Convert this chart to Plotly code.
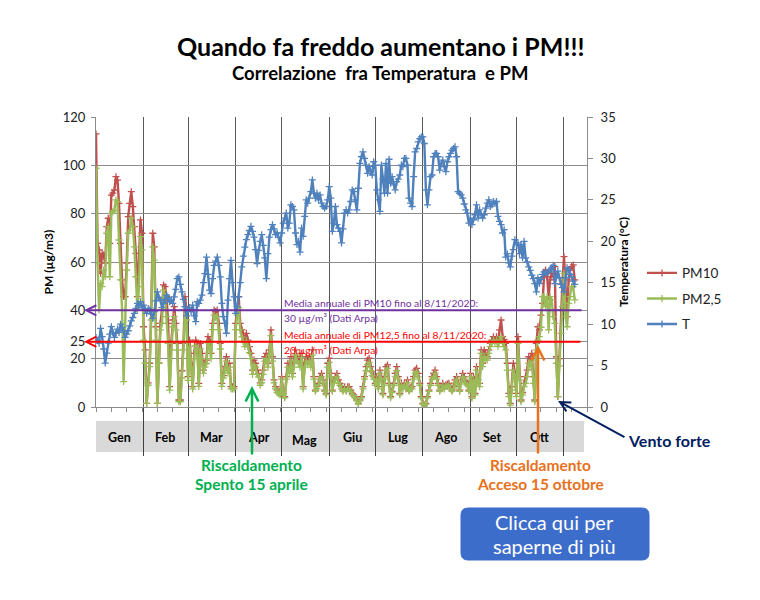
import pandas as pd
import plotly.graph_objects as go

# ---------------- data ----------------
start_date = "2020-01-01"
month_labels = ["Gen", "Feb", "Mar", "Apr", "Mag", "Giu", "Lug", "Ago", "Set", "Ott"]
month_mid = ["2020-01-16", "2020-02-15", "2020-03-16", "2020-04-16", "2020-05-16",
             "2020-06-16", "2020-07-16", "2020-08-16", "2020-09-15", "2020-10-16"]
month_starts = ["2020-02-01", "2020-03-01", "2020-04-01", "2020-05-01", "2020-06-01",
                "2020-07-01", "2020-08-01", "2020-09-01", "2020-10-01", "2020-11-01"]

pm_tickvals = [0, 20, 27, 40, 60, 80, 100, 120]
pm_ticktext = ["0", "20", "25", "40", "60", "80", "100", "120"]
pm10_mean_line = 40
pm25_mean_line = 27

pm10 = [113, 67.7, 65, 55.3, 63.6, 62.9, 59.5, 74.6, 78.1, 67.7, 87.7, 88.5, 89.8, 95.3, 93.9, 84.3, 67.7, 52.6, 45.7, 45.7,
        59.5, 78.8, 84.3, 89.1, 82.9, 74.6, 63.6, 45.7, 63.6, 77.4, 71.9, 33.2, 23.6, 1.5, 10, 18.1, 40.1, 71.9, 66.3, 33.2,
        1.5, 18.1, 34.6, 40.1, 50.5, 49.8, 45.7, 34.6, 8.4, 26.3, 36.0, 41.5, 34.6, 26.3, 2.9, 2.9, 15, 26.3, 45.7, 40,
        12.6, 27.7, 18.1, 8.4, 22.2, 27.7, 26.3, 9.8, 26.3, 22.2, 15.3, 18, 19.4, 29.1, 27.7, 22.2, 34.6, 40.1, 39.5, 40.1,
        34.6, 26.3, 9.8, 13, 16.7, 20.8, 15.3, 18.1, 8.4, 8.4, 8.4, 34.6, 40.1, 45.7, 34.6, 32, 30.5, 27.7, 30.5, 27.7,
        25.0, 22.2, 15.3, 19.4, 18.1, 15.3, 13.9, 10, 11.2, 15.3, 20.8, 22.2, 18.1, 23.6, 31.9, 20.8, 11.2, 8.4, 7.0, 6.5, 5.6,
        12.6, 5.6, 4.3, 12.6, 18.1, 15.3, 20.8, 13.9, 18.1, 23.6, 20.8, 19.5, 18.1, 22.2, 8.4, 18.1, 20.8, 19.4, 20.8, 18.1,
        23.6, 12.6, 7.0, 8.5, 9.8, 12.6, 13.9, 11.2, 7.0, 5.6, 18.1, 20.2, 13.9, 7.0, 11.2, 12.5, 13.9, 11.2, 9.8, 8.4,
        7.0, 8.4, 7.0, 8.4, 8.4, 7.0, 5.6, 5.0, 4.3, 2.9, 1.5, 2.9, 4.3, 8.4, 12.6, 16.7, 19.4, 20.2, 16.7, 14.5, 12.6,
        9.8, 12.6, 8.4, 15.3, 12.6, 5.6, 12.6, 16.7, 17.4, 9.8, 4.3, 6.5, 9.8, 13.9, 16.7, 12.6, 5.6, 9.8, 8.4, 9.8,
        8.4, 11.2, 7.0, 8, 8.4, 12.6, 15.3, 16.0, 13.9, 9.8, 4.3, 1.5, 0.8, 1.5, 4.3, 7, 9.8, 12.6, 13.9, 15.3,
        12.6, 9.8, 7.0, 8.4, 9.8, 8.4, 9.1, 9.5, 9.8, 8.4, 7.0, 8.4, 11.2, 12.6, 9.8, 7.0, 11.2, 13.9, 12.6, 10.5, 9.8, 7.0,
        13.9, 4.3, 12.6, 5.6, 16.7, 11.2, 9.8, 23.6, 18.1, 23.6, 22, 20.8, 23.6, 26.3, 27.7, 29.1, 27.7, 29.1, 26.3, 31.9,
        36.0, 29.1, 28, 26.3, 18.1, 5.6, 1.5, 8.4, 18.1, 13.9, 5.6, 29.1, 12.6, 2.9, 6, 9.8, 12.6, 15.3, 20.8, 19.4,
        22.2, 12.6, 2.9, 26.3, 33.2, 31.9, 38, 42.9, 53.9, 56.7, 53.9, 45.7, 52.6, 55.3, 53.9, 58.1, 20.8, 4.3, 20, 40.1,
        51.2, 62.2, 47.0, 37.4, 52.6, 56.7, 58.1, 58.8, 52.6]

pm25 = [98.8, 59.5, 40.1, 51.2, 49.8, 56.7, 53.9, 71.9, 74.6, 53.9, 80.1, 80.8, 81.5, 85.7, 85.0, 69.1, 52.6, 40.1, 10.5, 40.1,
        56.7, 71.9, 73.2, 78.1, 74.6, 66.3, 53.9, 40.1, 49.8, 70.5, 65.0, 27.7, 18.1, 1.5, 9, 16.7, 36.0, 66.3, 60.8, 27.7,
        1.5, 18.1, 31.9, 34.6, 48.4, 45.7, 37.4, 26.3, 7.0, 23.6, 33.2, 37.4, 31.9, 23.6, 2.2, 2.2, 12, 23.6, 40.1, 36,
        11, 25, 16.5, 7.5, 20, 25.5, 24, 8.5, 24, 20, 14, 16.5, 18, 26.5, 25, 20, 32, 38, 37, 37.5,
        32, 24, 8.5, 12, 15, 19, 14, 16.5, 7.5, 7.5, 7.5, 32, 38, 41, 32, 29, 27, 25, 27.5, 25,
        22.5, 20, 13.5, 17.5, 16.5, 13.5, 12.5, 9, 10, 13.5, 19, 20, 16.5, 21.5, 29.5, 19, 10, 7.5, 6, 5.5, 5,
        11.5, 5, 3.8, 11.5, 16.5, 14, 19, 12.5, 16.5, 21.5, 19, 18, 16.5, 20.5, 7.5, 16.5, 19, 17.5, 19, 16.5,
        21.5, 11.5, 6.5, 7.5, 9, 11.5, 12.5, 10, 6.5, 5, 16.5, 18.5, 12.5, 6.5, 10, 11.5, 12.5, 10, 9, 7.5,
        6.5, 7.5, 6.5, 7.5, 7.5, 6.5, 5, 4.5, 3.8, 2.5, 1.2, 2.5, 3.8, 7.5, 11.5, 15, 17.5, 18.5, 15, 13, 11.5,
        9, 11.5, 7.5, 14, 11.5, 5, 11.5, 15, 16, 9, 3.8, 6, 9, 12.5, 15, 11.5, 5, 9, 7.5, 9,
        7.5, 10, 6.5, 7.5, 7.5, 11.5, 14, 14.5, 12.5, 9, 3.8, 1.2, 0.5, 1.2, 3.8, 6.5, 9, 11.5, 12.5, 14,
        11.5, 9, 6.5, 7.5, 9, 7.5, 8.5, 8.5, 9, 7.5, 6.5, 7.5, 10, 11.5, 9, 6.5, 10, 12.5, 11.5, 9.5, 9, 6.5,
        12.6, 3.6, 11.2, 5.0, 15.3, 9.8, 8.4, 22.2, 16.7, 20.8, 20, 19.4, 22.2, 25.0, 26.3, 27.7, 26.3, 27.7, 25.0, 27.7,
        29.1, 26.3, 25, 23.6, 15.3, 4.3, 0.8, 7.0, 15.3, 12.6, 4.3, 26.3, 11.2, 2.2, 5, 8.4, 9.8, 12.6, 18.1, 16.7,
        19.4, 9.8, 2.2, 23.6, 27.7, 29.1, 33, 45.7, 45.7, 41.5, 45.7, 31.9, 45.7, 44.3, 37.4, 34.6, 18.1, 4.3, 17, 30.5,
        41.5, 55.3, 37.4, 33.2, 42.9, 45.7, 49.8, 49.8, 44.3]

temp = [8.4, 8.0, 7.7, 9.5, 8.5, 7.0, 5.3, 6.5, 7.7, 8.8, 9.7, 9.0, 8.4, 8.9, 9.4, 9.0, 10.0, 9.6, 9.2, 8.4,
        8.8, 9.2, 9.8, 10.4, 10.8, 11.3, 11.9, 12.5, 12.2, 12.7, 12.0,
        12.3, 11.8, 11.3, 11.9, 11.7, 11.2, 10.7, 11.5, 12.8, 13.9, 13.2, 12.9, 12.0, 12.5, 13.0, 13.5, 13.2, 12.7, 12.9, 12.5,
        13.3, 14.2, 15.5, 15.7, 14.8, 13.9, 13.0, 12.1, 11.0,
        11.7, 12.0, 11.5, 12.3, 11.0, 10.3, 12.7, 12.5, 12.9, 13.5, 15.0, 16.1, 18.1, 16.0, 14.1, 13.7, 15.5, 17.1, 17.6, 18.1,
        17.1, 15.7, 12.5, 10.9, 10.1, 8.9, 12.9, 15.5, 17.7, 15.0, 13.3,
        11.3, 12.1, 13.3, 15.0, 16.9, 18.2, 19.3, 20.2, 20.8, 21.3, 21.8, 21.2, 20.5, 19.0, 17.3, 18.9, 20.0, 20.8, 19.5, 18.0,
        15.5, 18.5, 20.5, 21.4, 22.0, 21.5, 20.8, 21.0, 20.5, 19.8,
        21.0, 22.2, 22.8, 23.4, 21.6, 22.2, 24.4, 24.2, 23.8, 21.0, 19.6, 20.0, 18.7, 21.6, 20.6, 23.0, 25.0, 24.6, 25.2, 26.0,
        27.4, 25.8, 25.2, 25.8, 25.0, 25.6, 24.6, 24.2, 24.0, 24.2, 25.0,
        26.6, 25.2, 21.2, 22.2, 24.2, 22.0, 21.6, 21.2, 19.8, 21.5, 23.4, 23.8, 23.4, 23.8, 24.8, 26.2, 26.0, 25.0, 23.8, 26.4,
        29.4, 30.2, 30.8, 30.0, 29.2, 28.2, 29.0, 28.4, 28.0, 29.6,
        29.2, 26.2, 25.0, 23.6, 29.2, 27.5, 25.8, 29.4, 25.8, 29.9, 27.0, 27.8, 26.8, 26.2, 27.2, 27.5, 28.0, 29.2, 29.0, 30.0,
        30.0, 29.2, 25.2, 24.6, 24.2, 27.8, 30.8, 31.2, 32.0, 32.4, 32.6,
        32.6, 31.8, 26.2, 24.4, 26.2, 27.8, 28.0, 30.2, 30.6, 30.6, 30.2, 28.6, 29.4, 29.8, 29.0, 28.4, 29.6, 30.2, 30.6, 31.0,
        31.2, 31.4, 30.2, 26.0, 25.8, 25.6, 25.2, 24.5, 23.8, 23.4, 22.2,
        22.8, 22.0, 22.6, 23.2, 24.4, 22.8, 23.8, 23.2, 22.8, 23.2, 24.0, 24.6, 25.0, 24.2, 24.4, 24.8, 24.6, 24.8, 23.0, 22.4,
        22.0, 21.0, 21.4, 18.1, 18.5, 17.4, 16.9, 18.2, 19.0, 20.2,
        19.6, 19.8, 18.5, 19.6, 18.0, 20.0, 18.0, 17.5, 16.9, 16.5, 15.9, 15.5, 14.9, 13.9, 15.6, 14.9, 15.4, 16.0, 16.3, 16.1,
        16.2, 16.3, 16.6, 16.8, 17.1, 14.9, 15.8, 16.4, 15.6, 14.8, 14.4,
        13.9, 15.6, 16.8, 16.6, 16.0, 15.7, 15.2, 14.8]

# ---------------- geometry helpers (screen pixel -> paper) ----------------
L, R, T, B = 96, 587, 117, 407      # plot area on screen
OFF = 8                              # page body margin
def px(x):
    return (x - L) / (R - L)
def py(y):
    return (B - y) / (B - T)

FONT = "Lato, 'Open Sans', sans-serif"
C_PM10 = "#C0504D"
C_PM25 = "#9BBB59"
C_T = "#4F81BD"

fig = go.Figure()

def add_series(vals, name, color, yaxis):
    fig.add_trace(go.Scatter(
        x=pd.date_range(start_date, periods=len(vals), freq="D"), y=vals, name=name,
        mode="lines+markers", yaxis=yaxis, legendgroup=name,
        line=dict(color=color, width=2.4),
        marker=dict(symbol="cross-thin", size=5, color=color, line=dict(color=color, width=1.3)),
        hoverinfo="skip"))

add_series(pm10, "PM10", C_PM10, "y")
add_series(pm25, "PM2,5", C_PM25, "y")
add_series(temp, "T", C_T, "y2")

shapes = []
shapes.append(dict(type="rect", xref="paper", yref="paper", x0=px(96), x1=px(584), y0=py(452), y1=py(421),
                   fillcolor="#D9D9D9", line=dict(width=0), layer="below"))
bx0, bx1, by0, by1 = px(461), px(649), py(560), py(508)
rx, ry = 7 / (R - L), 7 / (B - T)
path = (f"M {bx0+rx},{by1} L {bx1-rx},{by1} Q {bx1},{by1} {bx1},{by1-ry} "
        f"L {bx1},{by0+ry} Q {bx1},{by0} {bx1-rx},{by0} L {bx0+rx},{by0} "
        f"Q {bx0},{by0} {bx0},{by0+ry} L {bx0},{by1-ry} Q {bx0},{by1} {bx0+rx},{by1} Z")
shapes.append(dict(type="path", xref="paper", yref="paper", path=path,
                   fillcolor="#3D6DCB", line=dict(color="#3D6DCB", width=1)))

ann = []
ann.append(dict(xref="paper", yref="paper", x=px(380), y=py(46), text="<b>Quando fa freddo aumentano i PM!!!</b>",
                showarrow=False, font=dict(family=FONT, size=25, color="black"), xanchor="center", yanchor="middle"))
ann.append(dict(xref="paper", yref="paper", x=px(380), y=py(73),
                text="<b>Correlazione\u00a0 fra Temperatura\u00a0 e PM</b>",
                showarrow=False, font=dict(family=FONT, size=18.5, color="black"), xanchor="center", yanchor="middle"))
for lbl, d in zip(month_labels, month_mid):
    ann.append(dict(xref="x", yref="paper", x=d, y=py(440 if lbl == "Mag" else 437), text=f"<b>{lbl}</b>",
                    showarrow=False, font=dict(family=FONT, size=12.5, color="black"), xanchor="center", yanchor="middle"))
ann.append(dict(xref="paper", yref="y", x=px(84), y=pm10_mean_line, ax=499, ay=0, text="", showarrow=True,
                arrowhead=5, arrowwidth=2, arrowsize=1, arrowcolor="#7030A0", standoff=0))
ann.append(dict(xref="paper", yref="y", x=px(84), y=pm25_mean_line, ax=498, ay=0, text="", showarrow=True,
                arrowhead=5, arrowwidth=2, arrowsize=1, arrowcolor="#FF0000", standoff=0))
for txt, yy, col in [("Media annuale di PM10 fino al 8/11/2020:", 303, "#7030A0"),
                     ("30 µg/m³ (Dati Arpa)", 318, "#7030A0"),
                     ("Media annuale di PM12,5 fino al 8/11/2020:", 335, "#FF0000"),
                     ("20 µg/m³ (Dati Arpa)", 350, "#FF0000")]:
    ann.append(dict(xref="paper", yref="paper", x=px(282), y=py(yy), text=txt, showarrow=False,
                    font=dict(family=FONT, size=10.3, color=col), xanchor="left", yanchor="middle"))
ann.append(dict(xref="paper", yref="paper", x=px(252), y=py(386), ax=0, ay=70, text="", showarrow=True,
                arrowhead=5, arrowwidth=2.5, arrowsize=1, arrowcolor="#00B050", standoff=0))
ann.append(dict(xref="paper", yref="paper", x=px(538), y=py(345), ax=0, ay=110, text="", showarrow=True,
                arrowhead=5, arrowwidth=2.5, arrowsize=1, arrowcolor="#E8711C", standoff=0))
ann.append(dict(xref="paper", yref="paper", x=px(558), y=py(401), ax=68, ay=37, text="", showarrow=True,
                arrowhead=5, arrowwidth=2, arrowsize=1, arrowcolor="#002060", standoff=0))
for txt, xx, yy, col in [("Riscaldamento", 251, 465, "#00B050"), ("Spento 15 aprile", 251, 484, "#00B050"),
                         ("Riscaldamento", 540, 465, "#E8711C"), ("Acceso 15 ottobre", 540, 484, "#E8711C")]:
    ann.append(dict(xref="paper", yref="paper", x=px(xx), y=py(yy), text=f"<b>{txt}</b>", showarrow=False,
                    font=dict(family=FONT, size=15.5, color=col), xanchor="center", yanchor="middle"))
ann.append(dict(xref="paper", yref="paper", x=px(626), y=py(440), text="<b>Vento forte</b>", showarrow=False,
                font=dict(family=FONT, size=16, color="#002060"), xanchor="left", yanchor="middle"))
for txt, yy in [("Clicca qui per", 522), ("saperne di più", 546)]:
    ann.append(dict(xref="paper", yref="paper", x=px(554), y=py(yy), text=txt, showarrow=False,
                    font=dict(family=FONT, size=20, color="white"), xanchor="center", yanchor="middle"))

fig.update_layout(
    width=760, height=600,
    margin=dict(l=L - OFF, r=760 - R + OFF, t=T - OFF, b=600 - B + OFF),
    paper_bgcolor="white", plot_bgcolor="white",
    font=dict(family=FONT, size=12, color="#222"),
    showlegend=True,
    legend=dict(x=1.112, y=0.515, xanchor="left", yanchor="top", font=dict(family=FONT, size=13.5, color="#222"),
                bgcolor="rgba(0,0,0,0)", tracegroupgap=5, itemwidth=30),
    xaxis=dict(type="date", range=["2020-01-01", "2020-11-16"], tickmode="array", tickvals=month_starts,
               showticklabels=False, ticks="outside", ticklen=48, tickcolor="#404040", tickwidth=1,
               showgrid=True, gridcolor="#5A5A5A", gridwidth=1, showline=True, linecolor="#8C8C8C", linewidth=1,
               zeroline=False,
               minor=dict(ticks="outside", ticklen=4, tickcolor="#8C8C8C", tick0="2020-01-01",
                          dtick=10 * 86400000, showgrid=False)),
    yaxis=dict(range=[0, 120], tickmode="array", tickvals=pm_tickvals, ticktext=pm_ticktext,
               showgrid=True, gridcolor="#8C8C8C", gridwidth=1, showline=True, linecolor="#8C8C8C",
               ticks="outside", ticklen=4, tickcolor="#8C8C8C", zeroline=False, ticklabelstandoff=3,
               tickfont=dict(family=FONT, size=13, color="#222"),
               title=dict(text="<b>PM (µg/m3)</b>", font=dict(family=FONT, size=12, color="black"), standoff=6)),
    yaxis2=dict(range=[0, 35], overlaying="y", side="right", tick0=0, dtick=5, showgrid=False,
                showline=True, linecolor="#8C8C8C", ticks="outside", ticklen=5, tickcolor="#8C8C8C", zeroline=False,
                ticklabelstandoff=5,
                tickfont=dict(family=FONT, size=13, color="#222"),
                title=dict(text="<b>Temperatura (°C)</b>", font=dict(family=FONT, size=12, color="black"), standoff=4)),
    shapes=shapes, annotations=ann,
)

fig.write_html("out.html")
